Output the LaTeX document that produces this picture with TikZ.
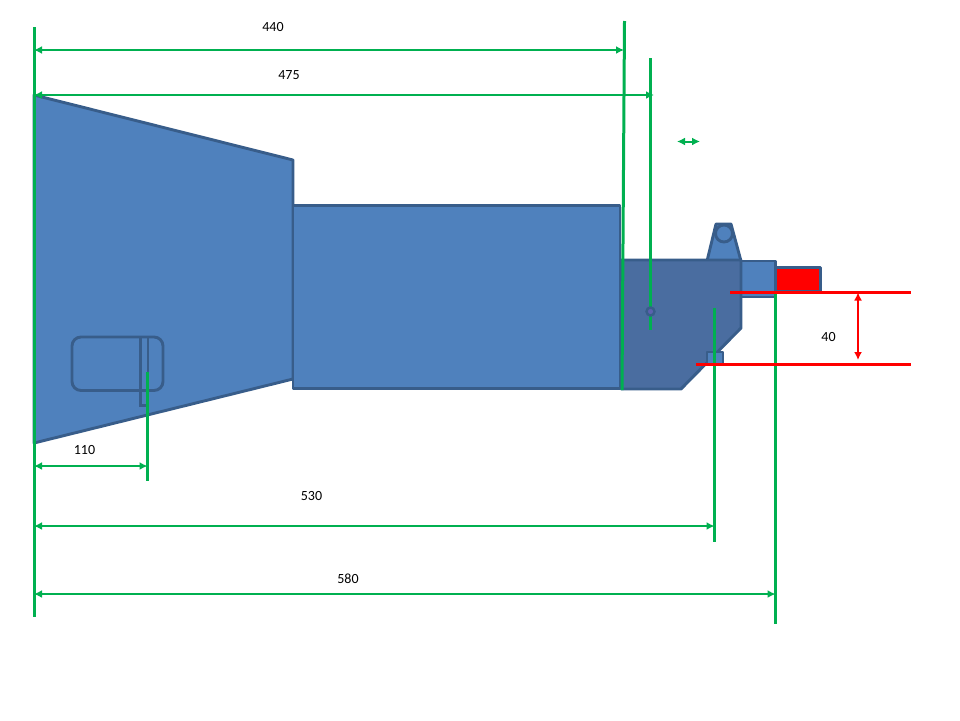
\documentclass[tikz,border=0pt]{standalone}
\usepackage{fontspec}
\setmainfont{Carlito}
\usetikzlibrary{arrows.meta}
\definecolor{bodyblue}{HTML}{4F81BD}
\definecolor{edgeblue}{HTML}{385D8A}
\definecolor{darkblue}{HTML}{4A6DA0}
\definecolor{dimgreen}{HTML}{00B050}
\tikzset{
	part/.style={draw=edgeblue, line width=2.9pt, fill=bodyblue, line join=round},
	darkpart/.style={part, fill=darkblue},
	outline/.style={draw=edgeblue, line width=2.9pt},
	refline/.style={draw=dimgreen, line width=3pt},
	dimline/.style={draw=dimgreen, line width=2pt, {Latex[length=8pt,width=8pt]}-{Latex[length=8pt,width=8pt]}},
	redline/.style={draw=red, line width=3pt},
	reddim/.style={draw=red, line width=1.7pt, {Latex[length=8pt,width=8pt]}-{Latex[length=8pt,width=8pt]}},
	dimlabel/.style={font=\fontsize{14}{16}\selectfont, inner sep=0pt},
}
\begin{document}
\begin{tikzpicture}[x=1pt, y=-1pt]
	\useasboundingbox (0,0) rectangle (960,720);
	% housing
	\draw[part] (34,95) -- (293,160) -- (293,379) -- (34,443) -- cycle;
	\draw[part] (293,205.5) rectangle (620,388.5);
	\draw[part] (716,224) -- (731,224) -- (741,261) -- (707,261) -- cycle;
	\draw[part] (741,261) rectangle (775.5,297);
	\draw[darkpart] (621,260) -- (741,260) -- (741,328) -- (681,389) -- (621,389) -- cycle;
	\draw[part] (707,352) rectangle (723,364);
	\draw[part, fill=red] (776,267.5) rectangle (820.5,291);
	\draw[outline, fill=bodyblue] (724,233.5) circle (8.5);
	% slot
	\draw[outline, rounded corners=9pt] (72,337) rectangle (163,390.5);
	\draw[outline] (140.5,337) -- (140.5,405.5) -- (147,405.5);
	\draw[outline] (148,337) -- (148,372);
	% vertical reference lines
	\coordinate (a0) at (34,27);      \coordinate (a1) at (34,617);
	\coordinate (b0) at (624.5,21);   \coordinate (b1) at (622,390);
	\coordinate (c0) at (650.5,58);   \coordinate (c1) at (650.5,330);
	\coordinate (d0) at (147.5,372);  \coordinate (d1) at (147.5,481);
	\coordinate (e0) at (714.5,308);  \coordinate (e1) at (714.5,542);
	\coordinate (f0) at (775.5,292);  \coordinate (f1) at (775.5,624);
	\draw[refline] (a0) -- (a1);
	\draw[refline] (b0) -- (b1);
	\draw[refline] (c0) -- (c1);
	\draw[refline] (d0) -- (d1);
	\draw[refline] (e0) -- (e1);
	\draw[refline] (f0) -- (f1);
	% pin sits over the reference line
	\draw[outline, line width=2.4pt, fill=bodyblue!75!violet] (650.5,311.5) circle (4);
	% red reference lines
	\coordinate (g0) at (730,292.5);  \coordinate (g1) at (911,292.5);
	\coordinate (h0) at (696,364.5);  \coordinate (h1) at (911,364.5);
	\draw[redline] (g0) -- (g1);
	\draw[redline] (h0) -- (h1);
	% dimensions
	\coordinate (p1) at (34,50);    \coordinate (q1) at (624,50);
	\coordinate (p2) at (34,95);    \coordinate (q2) at (654,95);
	\coordinate (p3) at (34,466);   \coordinate (q3) at (147.5,466);
	\coordinate (p4) at (34,526);   \coordinate (q4) at (714.5,526);
	\coordinate (p5) at (34,594);   \coordinate (q5) at (775.5,594);
	\coordinate (p6) at (677,141.5); \coordinate (q6) at (700,141.5);
	\coordinate (p7) at (858,292.5); \coordinate (q7) at (858,360);
	\draw[dimline] (p1) -- (q1);
	\draw[dimline] (p2) -- (q2);
	\draw[dimline] (p3) -- (q3);
	\draw[dimline] (p4) -- (q4);
	\draw[dimline] (p5) -- (q5);
	\draw[dimline] (p6) -- (q6);
	\draw[reddim] (p7) -- (q7);
	% labels
	\node[dimlabel] (l440) at (273,27)  {440};
	\node[dimlabel] (l475) at (289,75)  {475};
	\node[dimlabel] (l110) at (84.5,450) {110};
	\node[dimlabel] (l530) at (311.5,496) {530};
	\node[dimlabel] (l580) at (348,579) {580};
	\node[dimlabel] (l40)  at (828.5,337) {40};
\end{tikzpicture}
\end{document}
